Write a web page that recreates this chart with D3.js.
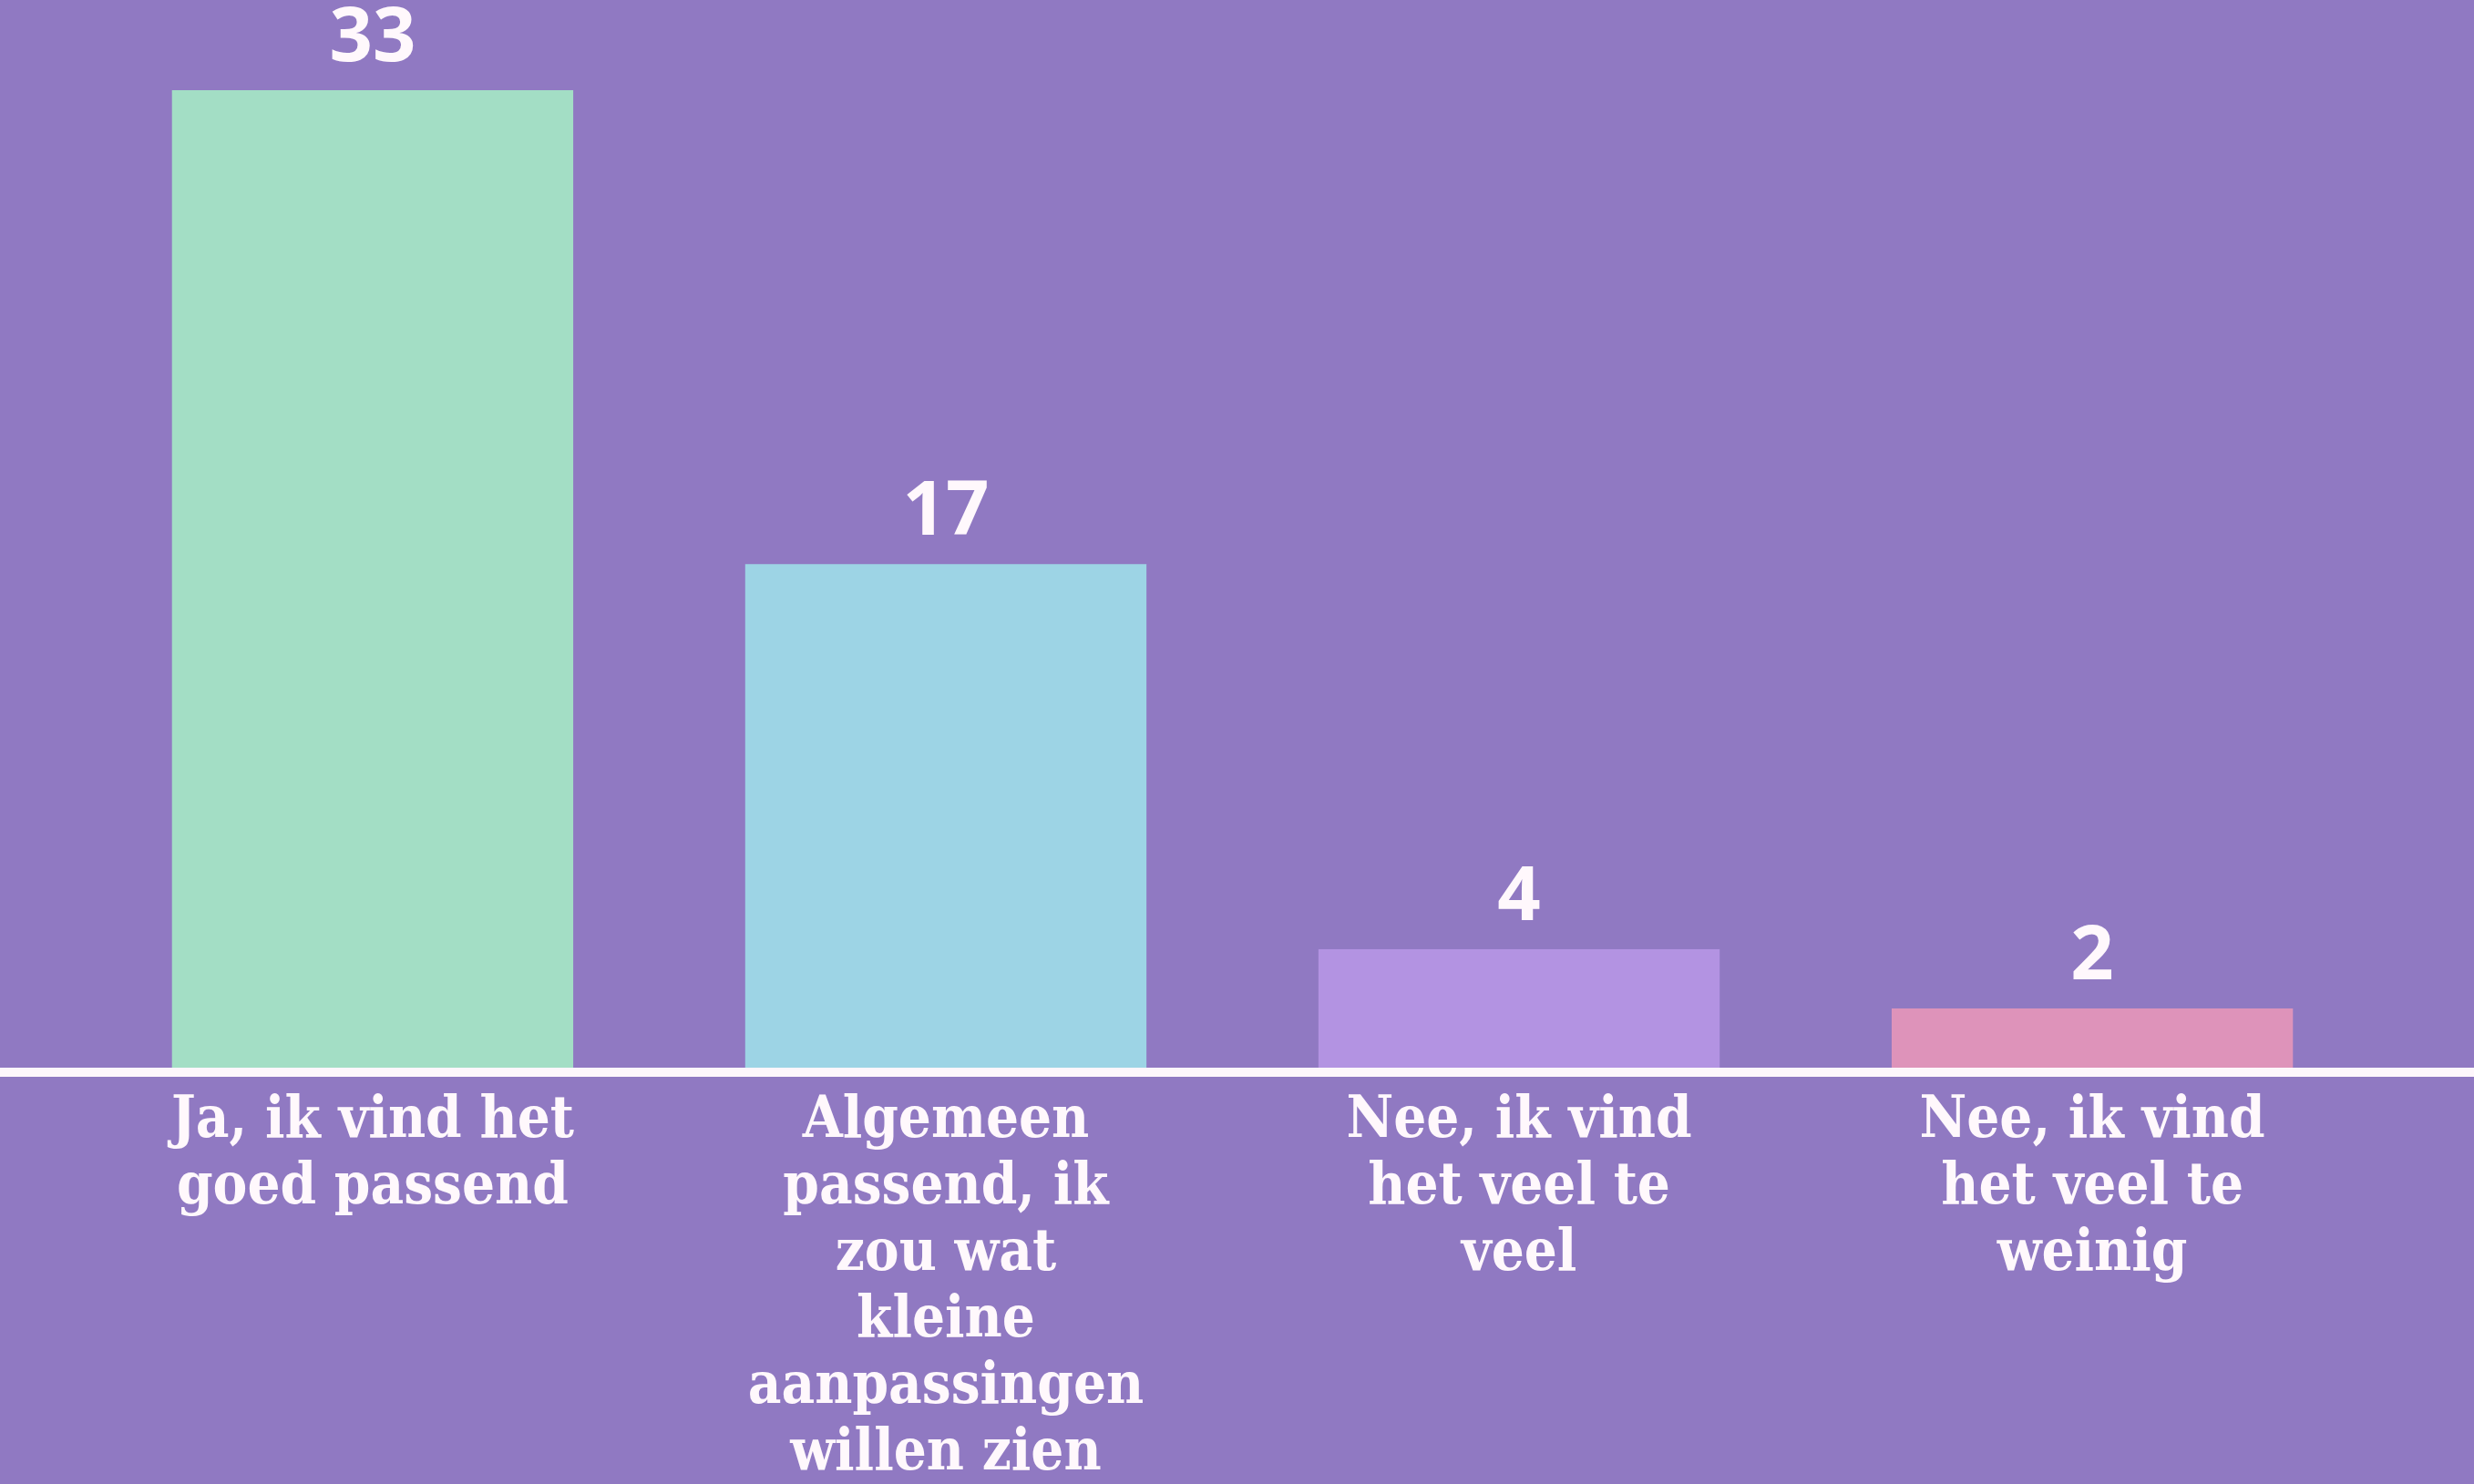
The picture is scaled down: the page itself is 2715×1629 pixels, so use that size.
<html>

<head>
    <script src="https://d3js.org/d3.v7.min.js"></script>
    <style>
        body { margin: 0; background: #9079c2; }
    </style>
</head>

<body></body>
<script>

    // data
    var categories = ["Ja, ik vind het goed passend",
        "Algemeen passend, ik zou wat kleine aanpassingen willen zien",
        "Nee, ik vind het veel te veel",
        "Nee, ik vind het veel te weinig"];
    var counts = [33, 17, 4, 2];
    var labelLines = [
        ["Ja, ik vind het", "goed passend"],
        ["Algemeen", "passend, ik", "zou wat", "kleine", "aanpassingen", "willen zien"],
        ["Nee, ik vind", "het veel te", "veel"],
        ["Nee, ik vind", "het veel te", "weinig"]
    ];
    var barColors = ["#a3dec5", "#9dd4e5", "#b393e2", "#de93ba"];

    var width = 2715, height = 1629;
    var baseline = 1172;

    var svg = d3.select("body")
        .append("svg")
        .attr("width", width)
        .attr("height", height);

    svg.append("rect")
        .attr("width", width)
        .attr("height", height)
        .attr("fill", "#9079c2");

    var x = d3.scaleBand()
        .domain(categories)
        .range([0, 2705])
        .paddingInner(0.3)
        .paddingOuter(0.3);

    var y = d3.scaleLinear()
        .domain([0, 33])
        .range([baseline, 99]);

    var data = categories.map(function (c, i) {
        return { cat: c, value: counts[i], color: barColors[i], lines: labelLines[i] };
    });

    // bars
    svg.append("g")
        .selectAll("rect")
        .data(data)
        .enter()
        .append("rect")
        .attr("x", d => x(d.cat))
        .attr("y", d => y(d.value))
        .attr("width", x.bandwidth())
        .attr("height", d => baseline - y(d.value))
        .attr("fill", d => d.color);

    // value labels
    svg.append("g")
        .selectAll("text")
        .data(data)
        .enter()
        .append("text")
        .attr("x", d => x(d.cat) + x.bandwidth() / 2)
        .attr("y", d => y(d.value) - 32)
        .attr("text-anchor", "middle")
        .style("font-family", "'Open Sans', sans-serif")
        .style("font-weight", "bold")
        .style("font-size", "83px")
        .style("fill", "#fff8fc")
        .text(d => d.value);

    // baseline
    svg.append("line")
        .attr("x1", 0)
        .attr("x2", width)
        .attr("y1", baseline + 5)
        .attr("y2", baseline + 5)
        .attr("stroke", "#fdf6fb")
        .attr("stroke-width", 10);

    // category labels
    var axis = d3.axisBottom(x).tickSize(0).tickFormat("");
    var ax = svg.append("g")
        .attr("transform", "translate(0," + baseline + ")")
        .call(axis);
    ax.select(".domain").remove();

    ax.selectAll(".tick")
        .append("text")
        .attr("text-anchor", "middle")
        .style("font-family", "'DejaVu Serif Condensed', 'DejaVu Serif', serif")
        .style("font-weight", "bold")
        .style("font-size", "63px")
        .style("fill", "#fff8fc")
        .selectAll("tspan")
        .data((c, i) => labelLines[i])
        .enter()
        .append("tspan")
        .attr("x", 0)
        .attr("y", (l, j) => 76 + j * 73)
        .text(l => l);
</script>

</html>
